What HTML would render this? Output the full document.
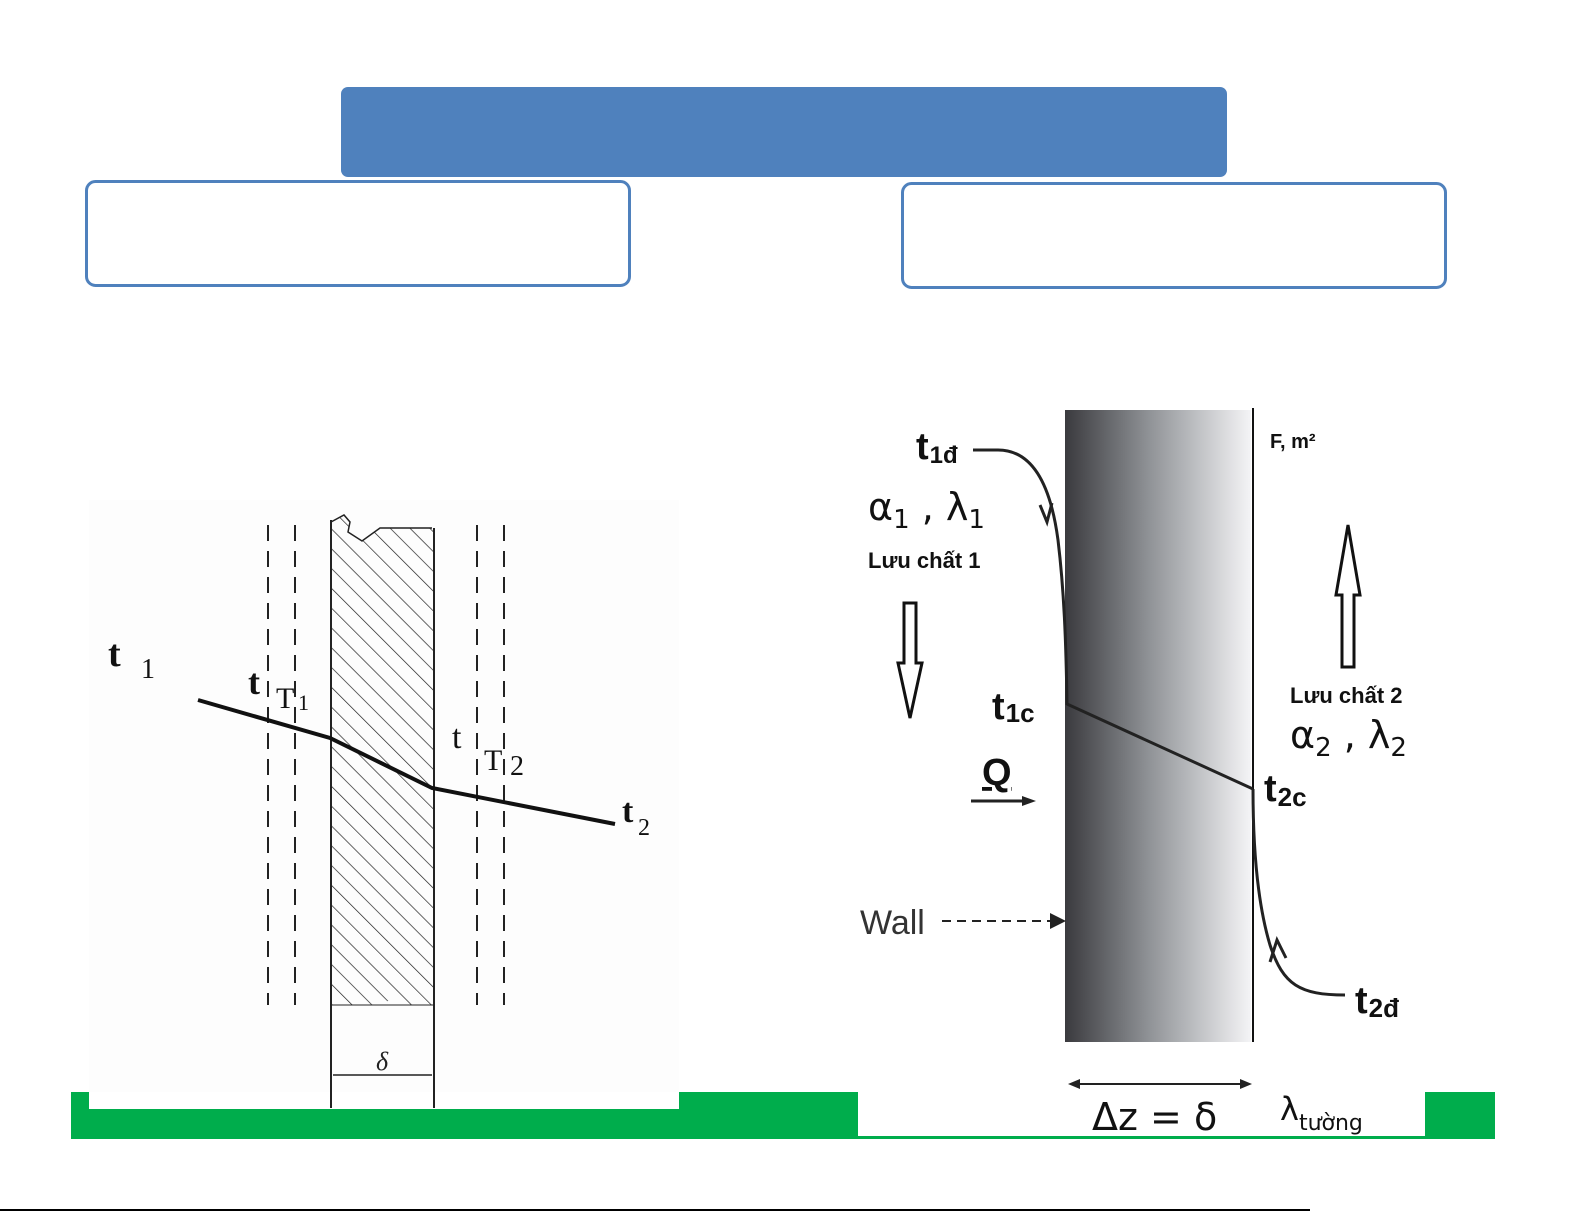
<!DOCTYPE html>
<html><head><meta charset="utf-8"><style>
html,body{margin:0;padding:0;background:#fff;overflow:hidden;}
svg{display:block;}
</style></head><body>
<svg width="1585" height="1225" viewBox="0 0 1585 1225" xmlns="http://www.w3.org/2000/svg" font-family="Liberation Sans, sans-serif">
<defs>
<linearGradient id="wg" x1="0" x2="1" y1="0" y2="0">
<stop offset="0" stop-color="#3a3a3e"/><stop offset="0.45" stop-color="#8f9296"/><stop offset="1" stop-color="#f4f4f6"/>
</linearGradient>
<pattern id="hatch" width="14" height="14" patternUnits="userSpaceOnUse" patternTransform="rotate(-45)">
<line x1="0" y1="0" x2="0" y2="14" stroke="#222" stroke-width="1.4"/>
</pattern>
</defs>
<!-- header boxes -->
<rect x="341" y="87" width="886" height="90" rx="7" fill="#4f81bd"/>
<rect x="86.5" y="181.5" width="543" height="104" rx="9" fill="#fff" stroke="#4f81bd" stroke-width="3"/>
<rect x="902.5" y="183.5" width="543" height="104" rx="9" fill="#fff" stroke="#4f81bd" stroke-width="3"/>
<!-- green bar -->
<rect x="71" y="1092" width="1424" height="47" fill="#00ad4c"/>
<rect x="89" y="1092" width="590" height="17" fill="#fff"/>
<rect x="858" y="1092" width="567" height="44" fill="#fff"/>
<!-- left diagram -->
<rect x="89" y="500" width="590" height="592" fill="#fdfdfd"/>
<path d="M331,522 L344,515 L350,522 L348,532 L362,541 L380,528 L432,528 L434,532 L434,1005 L400,1005 L390,1000 L380,1005 L331,1005 Z" fill="url(#hatch)" stroke="none"/>
<path d="M331,522 L344,515 L350,522 L348,532 L362,541 L380,528 L432,528" fill="none" stroke="#222" stroke-width="1.5"/>
<line x1="331" y1="520" x2="331" y2="1108" stroke="#222" stroke-width="2"/>
<line x1="434" y1="528" x2="434" y2="1108" stroke="#222" stroke-width="2"/>
<line x1="331" y1="1005" x2="434" y2="1005" stroke="#222" stroke-width="1"/>
<g stroke="#222" stroke-width="2" stroke-dasharray="16,10">
<line x1="268" y1="525" x2="268" y2="1005"/><line x1="295" y1="525" x2="295" y2="1005"/>
<line x1="477" y1="525" x2="477" y2="1005"/><line x1="504" y1="525" x2="504" y2="1005"/>
</g>
<polyline points="198,700 330,738 432,788 615,824" fill="none" stroke="#111" stroke-width="4"/>
<line x1="333" y1="1075" x2="432" y2="1075" stroke="#222" stroke-width="1.5"/>
<text x="382" y="1070" font-family="Liberation Serif, serif" font-style="italic" font-size="26" text-anchor="middle" fill="#222">δ</text>
<g font-family="Liberation Serif, serif" fill="#111">
<text x="108" y="666" font-size="38" font-weight="bold">t</text><text x="141" y="678" font-size="28">1</text>
<text x="248" y="694" font-size="36" font-weight="bold">t</text><text x="276" y="708" font-size="30">T</text><text x="298" y="710" font-size="22">1</text>
<text x="452" y="748" font-size="34">t</text><text x="484" y="770" font-size="30">T</text><text x="510" y="775" font-size="28">2</text>
<text x="622" y="822" font-size="34" font-weight="bold">t</text><text x="638" y="835" font-size="24">2</text>
</g>
<!-- right diagram -->
<rect x="1065" y="410" width="186" height="632" fill="url(#wg)"/>
<line x1="1253" y1="408" x2="1253" y2="1042" stroke="#111" stroke-width="2"/>
<path d="M973,450 L998,450 C1030,450 1050,480 1058,540 C1064,590 1066,640 1067,705" fill="none" stroke="#222" stroke-width="3"/>
<path d="M1040,505 L1047,522 L1052,503" fill="none" stroke="#222" stroke-width="3"/>
<line x1="1067" y1="704" x2="1253" y2="789" stroke="#222" stroke-width="3"/>
<path d="M1253,789 C1253,850 1258,905 1270,945 C1283,985 1300,995 1345,995" fill="none" stroke="#222" stroke-width="3"/>
<path d="M1270,962 L1277,940 L1286,958" fill="none" stroke="#222" stroke-width="3"/>
<!-- hollow arrows -->
<path d="M904,603 L916,603 L916,663 L922,663 L910,718 L898,663 L904,663 Z" fill="#fff" stroke="#111" stroke-width="3"/>
<path d="M1342,667 L1354,667 L1354,595 L1360,595 L1348,525 L1336,595 L1342,595 Z" fill="#fff" stroke="#111" stroke-width="3"/>
<line x1="971" y1="801" x2="1026" y2="801" stroke="#222" stroke-width="3"/>
<path d="M1022,796 L1036,801 L1022,806 Z" fill="#222"/>
<line x1="942" y1="921" x2="1050" y2="921" stroke="#222" stroke-width="2" stroke-dasharray="9,6"/>
<path d="M1050,913 L1066,921 L1050,929 Z" fill="#222"/>
<line x1="1072" y1="1084" x2="1246" y2="1084" stroke="#222" stroke-width="2"/>
<path d="M1068,1084 L1080,1079 L1080,1089 Z" fill="#222"/>
<path d="M1252,1084 L1240,1079 L1240,1089 Z" fill="#222"/>
<g fill="#111">
<text x="916" y="459" font-size="38" font-weight="bold">t<tspan font-size="24" dx="1" dy="4">1đ</tspan></text>
<text x="868" y="520" font-family="DejaVu Sans, sans-serif" font-size="38">α<tspan font-size="26" dy="8">1</tspan><tspan dy="-8"> , λ</tspan><tspan font-size="26" dy="8">1</tspan></text>
<text x="868" y="568" font-size="22" font-weight="bold">Lưu chất 1</text>
<text x="992" y="719" font-size="38" font-weight="bold">t<tspan font-size="26" dx="1" dy="3">1c</tspan></text>
<text x="982" y="785" font-size="38" font-weight="bold" text-decoration="underline">Q</text>
<text x="1270" y="448" font-size="20" font-weight="bold">F, m²</text>
<text x="1290" y="703" font-size="22" font-weight="bold">Lưu chất 2</text>
<text x="1290" y="748" font-family="DejaVu Sans, sans-serif" font-size="38">α<tspan font-size="26" dy="8">2</tspan><tspan dy="-8"> , λ</tspan><tspan font-size="26" dy="8">2</tspan></text>
<text x="1264" y="801" font-size="38" font-weight="bold">t<tspan font-size="26" dx="1" dy="5">2c</tspan></text>
<text x="1355" y="1013" font-size="38" font-weight="bold">t<tspan font-size="26" dx="1" dy="4">2đ</tspan></text>
<text x="860" y="934" font-size="34" fill="#333">Wall</text>
<text x="1092" y="1130" font-family="DejaVu Sans, sans-serif" font-size="38">Δz = δ</text>
<text x="1280" y="1120" font-family="DejaVu Sans, sans-serif" font-size="32">λ<tspan font-size="22" dy="10">tường</tspan></text>
</g>
<line x1="0" y1="1210" x2="1310" y2="1210" stroke="#000" stroke-width="2"/>
</svg>
</body></html>
